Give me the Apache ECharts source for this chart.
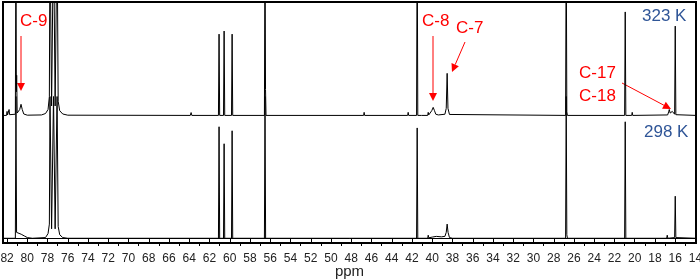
<!DOCTYPE html>
<html>
<head>
<meta charset="utf-8">
<script src="https://cdn.jsdelivr.net/npm/echarts@6/dist/echarts.min.js"></script>
<style>
  html, body { margin: 0; padding: 0; background: #fff; }
  #main { width: 700px; height: 280px; }
</style>
</head>
<body>
<div id="main"></div>
<script>
// tick labels on the ppm axis (major every 2, minor every 1)
var majorTicks = [82, 80, 78, 76, 74, 72, 70, 68, 66, 64, 62, 60, 58, 56, 54, 52, 50, 48, 46, 44, 42, 40, 38, 36, 34, 32, 30, 28, 26, 24, 22, 20, 18, 16, 14];
var minorTicks = [81, 79, 77, 75, 73, 71, 69, 67, 65, 63, 61, 59, 57, 55, 53, 51, 49, 47, 45, 43, 41, 39, 37, 35, 33, 31, 29, 27, 25, 23, 21, 19, 17, 15];

// 13C spectrum at 323 K, [ppm, intensity] (tall lines run off scale)
var spec323 = [
    [82.4, 0], [82.05, 0], [82.0, 1.7], [81.95, 0.2], [81.85, 0.3], [81.8, 2.5], [81.75, 0.3],
    [81.18, 0.5], [81.12, 80], [81.08, 10], [81.05, 17], [81.0, 1],
    [80.9, 0.4], [80.75, 2.5], [80.62, 4.7], [80.5, 2.5], [80.35, 0.6], [80.0, 0.1],
    [78.6, 0.2], [78.2, 0.8], [77.95, 2.5], [77.82, 8], [77.76, 80], [77.6, 4], [77.41, 80], [77.25, 4],
    [77.06, 80], [76.95, 6], [76.8, 2], [76.5, 0.6], [76.0, 0.1],
    [63.9, 0], [63.82, 1.2], [63.75, 0],
    [61.12, 0], [61.06, 34.4], [61.0, 0],
    [60.62, 0], [60.56, 35.7], [60.5, 0],
    [59.83, 0], [59.77, 34.4], [59.71, 0],
    [56.58, 0], [56.52, 80], [56.47, 11], [56.42, 0],
    [46.78, 0], [46.73, 1.3], [46.68, 0],
    [42.43, 0], [42.38, 1.3], [42.33, 0],
    [41.55, 0], [41.49, 80], [41.43, 0],
    [41.05, 0], [41.0, 0.6], [40.95, 0],
    [40.45, 0], [40.4, 1.3], [40.35, 0.2],
    [40.2, 0.6], [40.05, 2], [39.91, 3.4], [39.78, 2], [39.65, 0.5], [39.4, 0.2],
    [38.75, 0.5], [38.62, 3], [38.53, 17.8], [38.45, 3], [38.3, 0.4],
    [26.83, 0], [26.77, 80], [26.71, 1.5], [26.65, 0],
    [21.0, 0], [20.94, 43.8], [20.88, 0],
    [20.3, 0], [20.25, 1.3], [20.2, 0],
    [16.75, 0.2], [16.65, 1.5], [16.59, 2.5], [16.5, 1], [16.4, 1.2], [16.29, 1.7], [16.2, 1],
    [16.06, 0.5], [16.0, 37.8], [15.94, 0.3], [15.8, 0],
    [13.95, 0]
];

// same sample at 298 K
var spec298 = [
    [82.4, 0], [81.18, 0], [81.12, 60], [81.06, 2.5], [80.9, 2], [80.6, 1.7], [80.3, 1], [80.0, 0.3], [79.5, 0],
    [78.2, 0.3], [77.95, 2], [77.82, 6], [77.76, 60], [77.6, 4], [77.41, 60], [77.25, 4],
    [77.06, 60], [76.95, 5], [76.8, 1.5], [76.5, 0.3], [76.0, 0],
    [61.12, 0], [61.06, 47.2], [61.0, 0],
    [60.62, 0], [60.56, 40], [60.5, 0],
    [59.83, 0], [59.77, 45.5], [59.71, 0],
    [56.58, 0], [56.52, 60], [56.46, 0],
    [41.55, 0], [41.49, 46.7], [41.43, 0],
    [40.45, 0], [40.4, 1.3], [40.35, 0.2],
    [40.0, 0.5], [39.6, 0.8], [39.1, 0.6], [38.75, 0.8], [38.62, 2.5], [38.53, 6], [38.44, 2.5], [38.3, 0.3], [38.0, 0],
    [26.83, 0], [26.77, 60], [26.71, 1.5], [26.65, 0],
    [21.0, 0], [20.94, 49.3], [20.88, 0],
    [16.85, 0], [16.79, 1.3], [16.73, 0],
    [16.06, 0.3], [16.0, 17.8], [15.94, 0.3], [15.8, 0],
    [13.95, 0]
];

var STACK_OFFSET = 52; // upper trace sits above the lower one
var RED = '#ff0000';
var BLUE = '#2f5597';
var FONT = 'Liberation Sans';

var dom = document.getElementById('main');
var myChart = echarts.init(dom);

function arrow(x1, y1, x2, y2) {
    var dx = x2 - x1, dy = y2 - y1;
    var len = Math.sqrt(dx * dx + dy * dy);
    var ux = dx / len, uy = dy / len;
    var hl = 8, hw = 4;
    var bx = x2 - ux * hl, by = y2 - uy * hl;
    return [
        {type: 'line', shape: {x1: x1, y1: y1, x2: bx, y2: by}, style: {stroke: RED, lineWidth: 1}},
        {type: 'polygon', shape: {points: [[x2, y2], [bx - uy * hw, by + ux * hw], [bx + uy * hw, by - ux * hw]]}, style: {fill: RED}}
    ];
}

function label(text, x, y, color) {
    return {
        type: 'text', x: x, y: y,
        style: {text: text, fill: color, font: '17px "' + FONT + '"', textVerticalAlign: 'middle'}
    };
}

var graphics = []
    .concat(arrow(21, 36, 21, 91))
    .concat(arrow(433, 36, 433, 101))
    .concat(arrow(465, 42, 452, 72))
    .concat(arrow(622, 83, 671, 109))
    .concat([
        label('C-9', 20, 21, RED),
        label('C-8', 422, 21, RED),
        label('C-7', 456, 28, RED),
        label('C-17', 579, 73, RED),
        label('C-18', 579, 96, RED),
        label('323 K', 642, 16, BLUE),
        label('298 K', 644, 132, BLUE)
    ]);

var option = {
    animation: false,
    grid: {
        left: 3, top: 2, width: 693, height: 241,
        outerBoundsMode: 'none',
        show: true, borderColor: '#000', borderWidth: 2, backgroundColor: 'transparent'
    },
    xAxis: [
        {
            type: 'value', inverse: true, min: 13.95, max: 82.4, position: 'bottom',
            name: 'ppm', nameLocation: 'middle', nameGap: 21, nameMoveOverlap: false,
            nameTextStyle: {color: '#222', fontSize: 15, fontFamily: FONT},
            axisLine: {show: true, lineStyle: {color: '#000', width: 1}},
            axisTick: {show: true, customValues: majorTicks, length: 5, lineStyle: {color: '#000'}},
            axisLabel: {customValues: majorTicks, color: '#222', fontSize: 12, fontFamily: FONT, margin: 10},
            splitLine: {show: false}
        },
        {
            type: 'value', inverse: true, min: 13.95, max: 82.4, position: 'bottom', offset: 0,
            axisLine: {show: false},
            axisTick: {show: true, customValues: minorTicks, length: 3, lineStyle: {color: '#000'}},
            axisLabel: {show: false},
            splitLine: {show: false}
        }
    ],
    yAxis: {
        type: 'value', min: -2, max: 100, show: false
    },
    series: [
        {
            name: '323 K', type: 'line', xAxisIndex: 0, showSymbol: false, clip: true,
            lineStyle: {color: '#000', width: 1},
            data: spec323.map(function (p) { return [p[0], p[1] + STACK_OFFSET]; })
        },
        {
            name: '298 K', type: 'line', xAxisIndex: 0, showSymbol: false, clip: true,
            lineStyle: {color: '#000', width: 1},
            data: spec298
        }
    ],
    graphic: graphics
};

if (option && typeof option === "object") {
    myChart.setOption(option, true);
}
</script>
</body>
</html>
